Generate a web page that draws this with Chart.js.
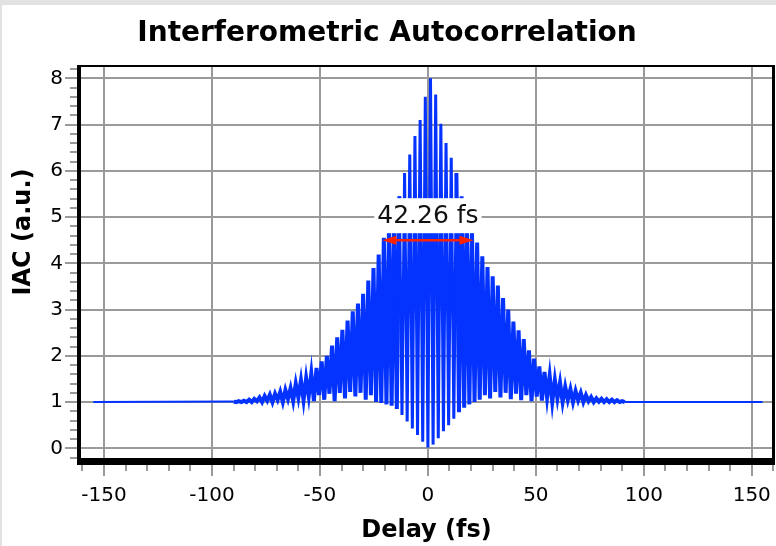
<!DOCTYPE html>
<html>
<head>
<meta charset="utf-8">
<title>Interferometric Autocorrelation</title>
<script src="https://cdn.jsdelivr.net/npm/chart.js"></script>
<style>
  html, body { margin: 0; padding: 0; background: #fff; overflow: hidden; }
  canvas { display: block; }
</style>
</head>
<body>
<canvas id="iac" width="776" height="546"></canvas>
<script>
// fringe maxima / minima (delay in fs, IAC in a.u.)
const peakDelay = [-90.0, -87.6, -85.2, -82.8, -80.4, -78.0, -75.6, -73.2, -70.8, -68.4,
  -66.0, -63.6, -61.2, -58.8, -56.4, -54.0, -51.6, -49.2, -46.8, -44.4,
  -42.0, -39.6, -37.2, -34.8, -32.4, -30.0, -27.6, -25.2, -22.8, -20.4,
  -18.0, -15.6, -13.2, -10.8, -8.4, -6.0, -3.6, -1.2,
  1.2, 3.6, 6.0, 8.4, 10.8, 13.2, 15.6, 18.0, 20.4, 22.8,
  25.2, 27.6, 30.0, 32.4, 34.8, 37.2, 39.6, 42.0, 44.4, 46.8,
  49.2, 51.6, 54.0, 56.4, 58.8, 61.2, 63.6, 66.0, 68.4, 70.8,
  73.2, 75.6, 78.0, 80.4, 82.8, 85.2, 87.6, 90.0];
const peakIAC = [1.01, 1.02, 1.03, 1.05, 1.07, 1.10, 1.13, 1.16, 1.18, 1.22,
  1.26, 1.30, 1.40, 1.47, 1.52, 1.62, 1.74, 1.88, 2.00, 2.22,
  2.40, 2.56, 2.76, 2.96, 3.13, 3.34, 3.63, 3.90, 4.19, 4.55,
  4.85, 5.10, 5.45, 5.95, 6.35, 6.75, 7.10, 7.60,
  8.00, 7.65, 7.02, 6.60, 6.28, 5.95, 5.45, 5.05, 4.72, 4.45,
  4.15, 3.92, 3.72, 3.52, 3.25, 3.00, 2.74, 2.55, 2.36, 2.12,
  1.94, 1.77, 1.65, 1.57, 1.48, 1.42, 1.33, 1.28, 1.24, 1.20,
  1.15, 1.11, 1.08, 1.07, 1.06, 1.05, 1.04, 1.02];
const troughDelay = [-88.8, -86.4, -84.0, -81.6, -79.2, -76.8, -74.4, -72.0, -69.6, -67.2,
  -64.8, -62.4, -60.0, -57.6, -55.2, -52.8, -50.4, -48.0, -45.6, -43.2,
  -40.8, -38.4, -36.0, -33.6, -31.2, -28.8, -26.4, -24.0, -21.6, -19.2,
  -16.8, -14.4, -12.0, -9.6, -7.2, -4.8, -2.4,
  0.0, 2.4, 4.8, 7.2, 9.6, 12.0, 14.4, 16.8, 19.2, 21.6,
  24.0, 26.4, 28.8, 31.2, 33.6, 36.0, 38.4, 40.8, 43.2, 45.6,
  48.0, 50.4, 52.8, 55.2, 57.6, 60.0, 62.4, 64.8, 67.2, 69.6,
  72.0, 74.4, 76.8, 79.2, 81.6, 84.0, 86.4, 88.8, 91.2];
const troughIAC = [1.00, 1.00, 1.00, 1.00, 1.02, 1.00, 1.03, 1.00, 1.05, 1.00,
  1.07, 1.02, 1.10, 1.04, 1.13, 1.02, 1.15, 1.05, 1.18, 1.02,
  1.20, 1.08, 1.22, 1.12, 1.20, 1.05, 1.15, 1.00, 0.98, 0.95,
  0.92, 0.85, 0.72, 0.58, 0.43, 0.29, 0.14,
  0.02, 0.08, 0.22, 0.37, 0.50, 0.64, 0.78, 0.88, 0.95, 1.00,
  1.05, 1.15, 1.08, 1.22, 1.10, 1.20, 1.06, 1.18, 1.04, 1.15,
  1.02, 1.12, 1.03, 1.10, 1.00, 1.08, 1.00, 1.05, 1.00, 1.04,
  1.00, 1.02, 1.00, 1.01, 1.00, 1.00, 1.00, 1.00, 1.00];
// flat background level at both ends of the scan
const baseDelay = [-155, 155];
const baseIAC = [1, 1];

const xTicks = [-150, -100, -50, 0, 50, 100, 150];
const yTicks = [0, 1, 2, 3, 4, 5, 6, 7, 8];

const fwhm = 42.26;      // fs
const fwhmLevel = 4.5;   // height of the red marker

const points = [];
baseDelay.forEach((d, i) => points.push({ x: d, y: baseIAC[i] }));
peakDelay.forEach((d, i) => points.push({ x: d, y: peakIAC[i] }));
troughDelay.forEach((d, i) => points.push({ x: d, y: troughIAC[i] }));
points.sort((a, b) => a.x - b.x);

const GRID = '#9a9a9a';
Chart.defaults.font.family = '"DejaVu Sans", sans-serif';
Chart.defaults.color = '#000';

// light grey strip round the top / left of the picture
const pageBackground = {
  id: 'pageBackground',
  beforeDraw(chart) {
    const { ctx, width, height } = chart;
    ctx.save();
    ctx.fillStyle = '#e2e2e2';
    ctx.fillRect(0, 0, width, height);
    ctx.fillStyle = '#fff';
    ctx.fillRect(2, 5, width - 2, height - 5);
    ctx.restore();
  }
};

// FWHM label with white backing and the red double arrow
const fwhmMarker = {
  id: 'fwhmMarker',
  afterDatasetsDraw(chart) {
    const { ctx, scales: { x, y } } = chart;
    const xl = x.getPixelForValue(-fwhm / 2);
    const xr = x.getPixelForValue(fwhm / 2);
    const ya = y.getPixelForValue(fwhmLevel);
    const cx = (xl + xr) / 2;
    const label = fwhm.toFixed(2) + ' fs';
    ctx.save();
    ctx.font = '25px "DejaVu Sans"';
    const w = ctx.measureText(label).width;
    ctx.fillStyle = '#fff';
    ctx.fillRect(cx - w / 2 - 3, ya - 42, w + 6, 35);
    ctx.fillStyle = '#111';
    ctx.textAlign = 'center';
    ctx.textBaseline = 'middle';
    ctx.fillText(label, cx, ya - 24);

    ctx.strokeStyle = '#ff2200';
    ctx.fillStyle = '#ff2200';
    ctx.lineWidth = 2.5;
    ctx.beginPath();
    ctx.moveTo(xl + 4, ya);
    ctx.lineTo(xr - 4, ya);
    ctx.stroke();
    [[xl, 1], [xr, -1]].forEach(([px, dir]) => {
      ctx.beginPath();
      ctx.moveTo(px, ya);
      ctx.lineTo(px + dir * 14, ya - 4.5);
      ctx.lineTo(px + dir * 14, ya + 4.5);
      ctx.closePath();
      ctx.fill();
    });
    ctx.restore();
  }
};

// heavy black frame, major/minor tick marks and the y axis title
const frame = {
  id: 'frame',
  afterDraw(chart) {
    const { ctx, chartArea: a, scales: { x, y } } = chart;
    ctx.save();
    ctx.strokeStyle = GRID;
    ctx.lineWidth = 2;
    for (let v = -160; v <= 160; v += 10) {
      const px = Math.round(x.getPixelForValue(v));
      const len = v % 50 === 0 ? 11 : 6;
      ctx.beginPath();
      ctx.moveTo(px, 465);
      ctx.lineTo(px, 465 + len);
      ctx.stroke();
    }
    for (let i = -1; i <= 41; i++) {
      const v = i / 5;
      const py = Math.round(y.getPixelForValue(v));
      const len = i % 5 === 0 ? 12 : 7;
      ctx.beginPath();
      ctx.moveTo(77, py);
      ctx.lineTo(77 - len, py);
      ctx.stroke();
    }

    ctx.fillStyle = '#000';
    const l = Math.round(a.left) - 2, r = Math.round(a.right);
    ctx.fillRect(l, 65, r - l + 1, 2);          // top
    ctx.fillRect(r - 2, 65, 3, 400);            // right
    ctx.fillRect(l, 65, 4, 400);                // left
    ctx.fillRect(l, 458, r - l + 1, 7);         // bottom

    ctx.translate(24, 232);
    ctx.rotate(-Math.PI / 2);
    ctx.font = 'bold 24px "DejaVu Sans"';
    ctx.textAlign = 'center';
    ctx.textBaseline = 'middle';
    ctx.fillText('IAC (a.u.)', 0, 0);
    ctx.restore();
  }
};

// stroke width per segment: thin flat background, fine fringes at the
// centre, heavier where the fringes crowd together on the wings
function fringeWidth(c) {
  const a = c.p0.parsed.x, b = c.p1.parsed.x;
  if (a < -95 || b > 95) return 2;
  if (Math.abs(a) < 14 && Math.abs(b) < 14) return 3;
  return 4;
}

new Chart(document.getElementById('iac'), {
  type: 'line',
  data: {
    datasets: [{
      label: 'IAC',
      data: points,
      borderColor: '#0433ff',
      borderWidth: 3,
      pointRadius: 0,
      tension: 0,
      fill: false,
      segment: { borderWidth: fringeWidth }
    }]
  },
  options: {
    responsive: false,
    animation: false,
    events: [],
    layout: { autoPadding: false, padding: { left: 0, right: 2, top: 0, bottom: 0 } },
    plugins: {
      legend: { display: false },
      tooltip: { enabled: false },
      title: {
        display: true,
        text: 'Interferometric Autocorrelation',
        font: { size: 28, weight: 'bold' },
        padding: { top: 17, bottom: 15 }
      }
    },
    scales: {
      x: {
        type: 'linear',
        min: -161.6,
        max: 160.3,
        afterBuildTicks: s => { s.ticks = xTicks.map(v => ({ value: v })); },
        afterFit: s => { s.height = 84.5; },
        grid: { color: GRID, lineWidth: 2, tickLength: 19, tickColor: 'rgba(0,0,0,0)' },
        border: { display: false },
        ticks: { padding: 3, maxRotation: 0, autoSkip: false, font: { size: 20 },
                 callback: v => String(v) },
        title: { display: true, text: 'Delay (fs)', font: { size: 24, weight: 'bold' },
                 padding: { top: 0, bottom: 1 } }
      },
      y: {
        type: 'linear',
        min: -0.285,
        max: 8.275,
        afterBuildTicks: s => { s.ticks = yTicks.map(v => ({ value: v })); },
        afterFit: s => { s.width = 79; },
        grid: { color: GRID, lineWidth: 2, tickLength: 13, tickColor: 'rgba(0,0,0,0)' },
        border: { display: false },
        ticks: { padding: 3, font: { size: 20 }, callback: v => String(v) }
      }
    }
  },
  plugins: [pageBackground, fwhmMarker, frame]
});
</script>
</body>
</html>
